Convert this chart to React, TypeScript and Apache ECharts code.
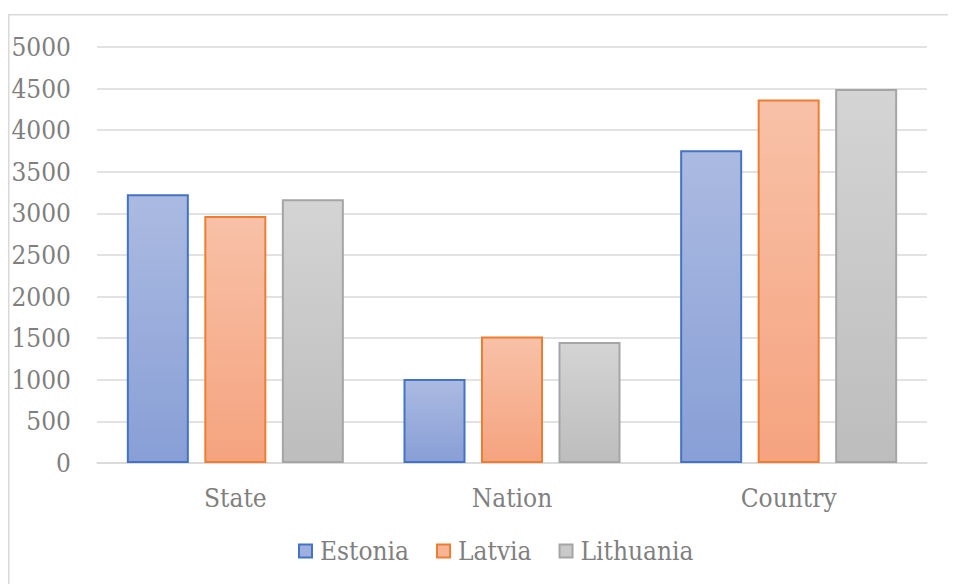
import React, { useEffect, useRef } from "react";
import * as echarts from "echarts";

const categories = ["State", "Nation", "Country"];
const seriesNames = ["Estonia", "Latvia", "Lithuania"];
const estonia = [3230, 1010, 3760];
const latvia = [2970, 1520, 4370];
const lithuania = [3170, 1455, 4495];
const yTicks = { min: 0, max: 5000, interval: 500 };

const FONT = "DejaVu Serif Condensed, DejaVu Serif";
const FS = 26;
const TEXT = "#7f7f7f";
const GRID = "#d9d9d9";

const styles = [
  { top: "#abbae1", bottom: "#889fd6", border: "#4472c4", legend: "#9db0df" },
  { top: "#f8c1a7", bottom: "#f5a37f", border: "#ed7d31", legend: "#f7b596" },
  { top: "#d4d4d4", bottom: "#bdbdbd", border: "#a5a5a5", legend: "#c9c9c9" },
];

export default function App() {
  const ref = useRef<HTMLDivElement>(null);
  useEffect(() => {
    if (!ref.current) return;
    const chart = echarts.init(ref.current, null, { renderer: "svg" });
    const values = [estonia, latvia, lithuania];
    chart.setOption({
      animation: false,
      backgroundColor: "#ffffff",
      textStyle: { fontFamily: FONT },
      graphic: [
        {
          type: "rect",
          shape: { x: 0.75, y: 6.75, width: 2000, height: 2000 },
          style: { fill: "none", stroke: GRID, lineWidth: 1.5 },
          silent: true,
        },
      ],
      grid: { left: 89, right: 29, top: 39, bottom: 121, outerBoundsMode: "none", containLabel: false },
      legend: {
        left: 290,
        top: 530,
        padding: 0,
        itemWidth: 13,
        itemHeight: 13,
        itemGap: 27,
        icon: "rect",
        textStyle: { color: TEXT, fontSize: FS, fontFamily: FONT, padding: [0, 0, 0, 3] },
        data: seriesNames.map((n, i) => ({
          name: n,
          itemStyle: { color: styles[i].legend, borderColor: styles[i].border, borderWidth: 2 },
        })),
      },
      xAxis: {
        type: "category",
        data: categories,
        axisLine: { show: true, lineStyle: { color: GRID, width: 1.5 } },
        axisTick: { show: false },
        axisLabel: { color: TEXT, fontSize: FS, fontFamily: FONT, margin: 22 },
      },
      yAxis: {
        type: "value",
        min: yTicks.min,
        max: yTicks.max,
        interval: yTicks.interval,
        axisLine: { show: false },
        axisTick: { show: false },
        splitLine: { lineStyle: { color: GRID, width: 1.5 } },
        axisLabel: {
          color: TEXT,
          fontSize: FS,
          fontFamily: FONT,
          margin: 26,
          formatter: (v: number) => String(v),
        },
      },
      series: seriesNames.map((n, i) => ({
        name: n,
        type: "bar",
        data: values[i],
        barWidth: 62,
        barGap: "25%",
        itemStyle: {
          color: new echarts.graphic.LinearGradient(0, 0, 0, 1, [
            { offset: 0, color: styles[i].top },
            { offset: 1, color: styles[i].bottom },
          ]),
          borderColor: styles[i].border,
          borderWidth: 2,
        },
      })),
    });
    return () => chart.dispose();
  }, []);
  return <div ref={ref} style={{ width: 948, height: 576 }} />;
}
